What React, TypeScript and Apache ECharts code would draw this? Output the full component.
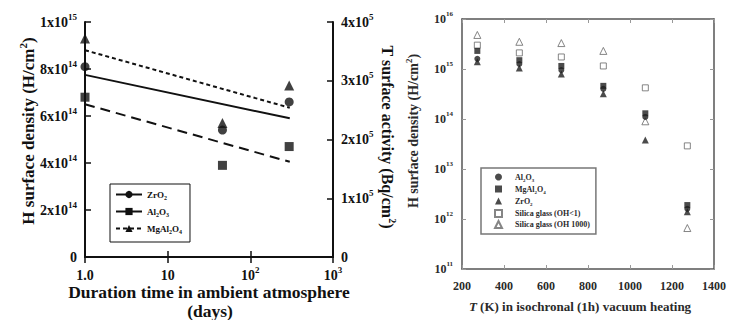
import React, { useEffect, useRef } from "react";
import * as echarts from "echarts";

// ---------- Left panel: H surface density vs duration in ambient atmosphere ----------
const durationDays = [1, 46, 295];
const zro2Density = [8.1e14, 5.4e14, 6.6e14];
const al2o3Density = [6.8e14, 3.9e14, 4.7e14];
const mgal2o4Density = [9.3e14, 5.7e14, 7.3e14];

const fitDays = [1, 300];
const zro2Fit = [7.75e14, 5.9e14];
const al2o3Fit = [6.5e14, 4.05e14];
const mgal2o4Fit = [8.8e14, 6.35e14];

const durationTickLabels = ["1.0", "10", "10^2", "10^3"];
const hDensityTickLabels = ["0", "2x10^14", "4x10^14", "6x10^14", "8x10^14", "1x10^15"];
const activityTickLabels = ["0", "1x10^5", "2x10^5", "3x10^5", "4x10^5"];

// ---------- Right panel: H surface density vs isochronal heating temperature ----------
const heatingTempK = [273, 473, 673, 873, 1073, 1273];
const al2o3Heated = [1.6e15, 1.26e15, 9.5e14, 4.0e14, 1.1e14, 1.6e12];
const mgal2o4Heated = [2.3e15, 1.5e15, 1.15e15, 4.6e14, 1.3e14, 1.9e12];
const zro2Heated = [1.4e15, 1.05e15, 7.9e14, 3.2e14, 3.8e13, 1.4e12];
const silicaOH1Heated = [3.0e15, 2.1e15, 1.74e15, 1.15e15, 4.2e14, 2.9e13];
const silicaOH1000Heated = [4.8e15, 3.5e15, 3.3e15, 2.3e15, 9.0e13, 6.6e11];

const tempTickLabels = ["200", "400", "600", "800", "1000", "1200", "1400"];
const heatDensityTickLabels = ["10^11", "10^12", "10^13", "10^14", "10^15", "10^16"];

const SERIF = "'Liberation Serif', 'Times New Roman', Times, serif";

const toRich = (label: string) => {
  if (!label) return "";
  if (label.indexOf("^") >= 0) {
    const [b, s] = label.split("^");
    return `{b|${b}}{s|${s}}`;
  }
  return `{b|${label}}`;
};

const supRich = (size: number, color: string) => ({
  b: { fontFamily: SERIF, fontWeight: "bold", fontSize: size, color, lineHeight: size + 6 },
  s: {
    fontFamily: SERIF,
    fontWeight: "bold",
    fontSize: Math.round(size * 0.62),
    color,
    lineHeight: Math.round(size * 0.62),
    verticalAlign: "top",
  },
});

const subRich = (size: number, color: string, padLeft: number) => ({
  t: { fontFamily: SERIF, fontWeight: "bold", fontSize: size, color, lineHeight: size + 4 },
  u: {
    fontFamily: SERIF,
    fontWeight: "bold",
    fontSize: Math.round(size * 0.65),
    color,
    lineHeight: Math.round(size * 0.65),
    verticalAlign: "bottom",
  },
  p: { width: padLeft, fontSize: size, lineHeight: size + 4 },
});

const leftLegendLabels: Record<string, string> = {
  ZrO2: "{t|ZrO}{u|2}",
  Al2O3: "{t|Al}{u|2}{t|O}{u|3}",
  MgAl2O4: "{t|MgAl}{u|2}{t|O}{u|4}",
};

const rightLegendLabels: Record<string, string> = {
  "r-Al2O3": "{p|}{t|Al}{u|2}{t|O}{u|3}",
  "r-MgAl2O4": "{p|}{t|MgAl}{u|2}{t|O}{u|4}",
  "r-ZrO2": "{p|}{t|ZrO}{u|2}",
  "r-SilicaOH1": "{p|}{t|Silica glass (OH<1)}",
  "r-SilicaOH1000": "{p|}{t|Silica glass (OH 1000)}",
};

const zip = (xs: number[], ys: number[]) => xs.map((x, i) => [x, ys[i]]);

const BLACK = "#111";
const GRAY_AXIS = "#555";
const GRAY_TEXT = "#2a2a2a";

export default function App() {
  const ref = useRef<HTMLDivElement>(null);

  useEffect(() => {
    if (!ref.current) return;
    const chart = echarts.init(ref.current, undefined, { renderer: "svg" });

    const leftAxisLine = { show: true, lineStyle: { color: BLACK, width: 2 } };
    const leftTick = { show: true, inside: true, length: 6, lineStyle: { color: BLACK, width: 1.5 } };
    const rightAxisLine = { show: true, lineStyle: { color: GRAY_AXIS, width: 1.5 } };
    const rightTick = { show: true, inside: true, length: 4, lineStyle: { color: "#999", width: 1 } };

    const option: any = {
      animation: false,
      backgroundColor: "#fff",
      grid: [
        { left: 85, top: 22, width: 248, height: 235 },
        { left: 462, top: 19, width: 252, height: 250 },
      ],
      xAxis: [
        {
          gridIndex: 0,
          type: "log",
          logBase: 10,
          min: 1,
          max: 1000,
          position: "bottom",
          axisLine: leftAxisLine,
          axisTick: leftTick,
          minorTick: { show: false },
          splitLine: { show: false },
          axisLabel: {
            margin: 8,
            formatter: (_v: number, i: number) => toRich(durationTickLabels[i]),
            rich: supRich(14, BLACK),
          },
        },
        {
          gridIndex: 0,
          type: "log",
          logBase: 10,
          min: 1,
          max: 1000,
          position: "top",
          axisLine: leftAxisLine,
          axisTick: leftTick,
          splitLine: { show: false },
          axisLabel: { show: false },
        },
        {
          gridIndex: 1,
          type: "value",
          min: 200,
          max: 1400,
          interval: 200,
          position: "bottom",
          axisLine: rightAxisLine,
          axisTick: rightTick,
          splitLine: { show: false },
          axisLabel: {
            margin: 8,
            formatter: (_v: number, i: number) => toRich(tempTickLabels[i]),
            rich: supRich(12, GRAY_TEXT),
          },
        },
        {
          gridIndex: 1,
          type: "value",
          min: 200,
          max: 1400,
          interval: 200,
          position: "top",
          axisLine: rightAxisLine,
          axisTick: rightTick,
          splitLine: { show: false },
          axisLabel: { show: false },
        },
      ],
      yAxis: [
        {
          gridIndex: 0,
          type: "value",
          min: 0,
          max: 1e15,
          interval: 2e14,
          position: "left",
          axisLine: leftAxisLine,
          axisTick: leftTick,
          splitLine: { show: false },
          axisLabel: {
            margin: 8,
            formatter: (_v: number, i: number) => toRich(hDensityTickLabels[i]),
            rich: supRich(14, BLACK),
          },
        },
        {
          gridIndex: 0,
          type: "value",
          min: 0,
          max: 4e5,
          interval: 1e5,
          position: "right",
          axisLine: leftAxisLine,
          axisTick: leftTick,
          splitLine: { show: false },
          axisLabel: {
            margin: 8,
            formatter: (_v: number, i: number) => toRich(activityTickLabels[i]),
            rich: supRich(14, BLACK),
          },
        },
        {
          gridIndex: 1,
          type: "log",
          logBase: 10,
          min: 1e11,
          max: 1e16,
          position: "left",
          axisLine: rightAxisLine,
          axisTick: rightTick,
          minorTick: { show: false },
          splitLine: { show: false },
          axisLabel: {
            margin: 9,
            formatter: (_v: number, i: number) => toRich(heatDensityTickLabels[i]),
            rich: supRich(12, GRAY_TEXT),
          },
        },
        {
          gridIndex: 1,
          type: "log",
          logBase: 10,
          min: 1e11,
          max: 1e16,
          position: "right",
          axisLine: rightAxisLine,
          axisTick: rightTick,
          splitLine: { show: false },
          axisLabel: { show: false },
        },
      ],
      legend: [
        {
          data: ["ZrO2", "Al2O3", "MgAl2O4"],
          orient: "vertical",
          left: 110,
          top: 184,
          padding: [6, 8, 7, 5],
          itemGap: 6,
          itemWidth: 26,
          itemHeight: 9,
          borderColor: BLACK,
          borderWidth: 1,
          selectedMode: false,
          formatter: (name: string) => leftLegendLabels[name] || name,
          textStyle: { fontFamily: SERIF, fontWeight: "bold", fontSize: 9, color: BLACK, rich: subRich(9, BLACK, 0) },
        },
        {
          data: ["r-Al2O3", "r-MgAl2O4", "r-ZrO2", "r-SilicaOH1", "r-SilicaOH1000"],
          orient: "vertical",
          left: 481,
          top: 168,
          padding: [5, 6, 5, 13],
          itemGap: 2,
          itemWidth: 7,
          itemHeight: 7,
          borderColor: "#777",
          borderWidth: 1.5,
          selectedMode: false,
          formatter: (name: string) => rightLegendLabels[name] || name,
          textStyle: { fontFamily: SERIF, fontWeight: "bold", fontSize: 8, color: GRAY_TEXT, rich: subRich(8, GRAY_TEXT, 8) },
        },
      ],
      series: [
        // left panel fits
        {
          name: "ZrO2",
          type: "line",
          xAxisIndex: 0,
          yAxisIndex: 0,
          data: zip(fitDays, zro2Fit),
          symbol: "circle",
          showSymbol: false,
          lineStyle: { color: BLACK, width: 2, type: "solid" },
          itemStyle: { color: BLACK },
        },
        {
          name: "Al2O3",
          type: "line",
          xAxisIndex: 0,
          yAxisIndex: 0,
          data: zip(fitDays, al2o3Fit),
          symbol: "rect",
          showSymbol: false,
          lineStyle: { color: BLACK, width: 2, type: [10, 6] },
          itemStyle: { color: BLACK },
        },
        {
          name: "MgAl2O4",
          type: "line",
          xAxisIndex: 0,
          yAxisIndex: 0,
          data: zip(fitDays, mgal2o4Fit),
          symbol: "triangle",
          showSymbol: false,
          lineStyle: { color: BLACK, width: 2, type: [4, 3] },
          itemStyle: { color: BLACK },
        },
        // left panel points
        {
          name: "ZrO2 points",
          type: "scatter",
          xAxisIndex: 0,
          yAxisIndex: 0,
          data: zip(durationDays, zro2Density),
          symbol: "circle",
          symbolSize: 9,
          itemStyle: { color: BLACK },
        },
        {
          name: "Al2O3 points",
          type: "scatter",
          xAxisIndex: 0,
          yAxisIndex: 0,
          data: zip(durationDays, al2o3Density),
          symbol: "rect",
          symbolSize: 9,
          itemStyle: { color: BLACK },
        },
        {
          name: "MgAl2O4 points",
          type: "scatter",
          xAxisIndex: 0,
          yAxisIndex: 0,
          data: zip(durationDays, mgal2o4Density),
          symbol: "triangle",
          symbolSize: 10,
          itemStyle: { color: BLACK },
        },
        // right panel
        {
          name: "r-SilicaOH1000",
          type: "scatter",
          xAxisIndex: 2,
          yAxisIndex: 2,
          data: zip(heatingTempK, silicaOH1000Heated),
          symbol: "triangle",
          symbolSize: 7,
          itemStyle: { color: "#fff", borderColor: "#666", borderWidth: 1 },
        },
        {
          name: "r-SilicaOH1",
          type: "scatter",
          xAxisIndex: 2,
          yAxisIndex: 2,
          data: zip(heatingTempK, silicaOH1Heated),
          symbol: "rect",
          symbolSize: 6,
          itemStyle: { color: "#fff", borderColor: "#666", borderWidth: 1 },
        },
        {
          name: "r-ZrO2",
          type: "scatter",
          xAxisIndex: 2,
          yAxisIndex: 2,
          data: zip(heatingTempK, zro2Heated),
          symbol: "triangle",
          symbolSize: 7,
          itemStyle: { color: "#1e1e1e" },
        },
        {
          name: "r-Al2O3",
          type: "scatter",
          xAxisIndex: 2,
          yAxisIndex: 2,
          data: zip(heatingTempK, al2o3Heated),
          symbol: "circle",
          symbolSize: 6,
          itemStyle: { color: "#1e1e1e" },
        },
        {
          name: "r-MgAl2O4",
          type: "scatter",
          xAxisIndex: 2,
          yAxisIndex: 2,
          data: zip(heatingTempK, mgal2o4Heated),
          symbol: "rect",
          symbolSize: 6,
          itemStyle: { color: "#1e1e1e" },
        },
      ],
      graphic: [
        {
          type: "text",
          x: 28,
          y: 131,
          rotation: Math.PI / 2,
          style: {
            text: "{a|H surface density (H/cm}{s|2}{a|)}",
            align: "center",
            verticalAlign: "middle",
            rich: {
              a: { fontFamily: SERIF, fontWeight: "bold", fontSize: 17, fill: BLACK, lineHeight: 21 },
              s: { fontFamily: SERIF, fontWeight: "bold", fontSize: 11, fill: BLACK, lineHeight: 11, verticalAlign: "top" },
            },
          },
        },
        {
          type: "text",
          x: 387,
          y: 137,
          rotation: -Math.PI / 2,
          style: {
            text: "{a|T surface activity (Bq/cm}{s|2}{a|)}",
            align: "center",
            verticalAlign: "middle",
            rich: {
              a: { fontFamily: SERIF, fontWeight: "bold", fontSize: 16, fill: BLACK, lineHeight: 20 },
              s: { fontFamily: SERIF, fontWeight: "bold", fontSize: 10, fill: BLACK, lineHeight: 10, verticalAlign: "top" },
            },
          },
        },
        {
          type: "text",
          x: 209,
          y: 292,
          style: {
            text: "Duration time in ambient atmosphere",
            align: "center",
            verticalAlign: "middle",
            fontFamily: SERIF,
            fontWeight: "bold",
            fontSize: 17.5,
            fill: BLACK,
          },
        },
        {
          type: "text",
          x: 210,
          y: 311,
          style: {
            text: "(days)",
            align: "center",
            verticalAlign: "middle",
            fontFamily: SERIF,
            fontWeight: "bold",
            fontSize: 17.5,
            fill: BLACK,
          },
        },
        {
          type: "text",
          x: 413,
          y: 131,
          rotation: Math.PI / 2,
          style: {
            text: "{a|H surface density (H/cm}{s|2}{a|)}",
            align: "center",
            verticalAlign: "middle",
            rich: {
              a: { fontFamily: SERIF, fontWeight: "bold", fontSize: 14, fill: GRAY_TEXT, lineHeight: 18 },
              s: { fontFamily: SERIF, fontWeight: "bold", fontSize: 9, fill: GRAY_TEXT, lineHeight: 9, verticalAlign: "top" },
            },
          },
        },
        {
          type: "text",
          x: 580,
          y: 306,
          style: {
            text: "{i|T}{a| (K) in isochronal (1h) vacuum heating}",
            align: "center",
            verticalAlign: "middle",
            rich: {
              i: { fontFamily: SERIF, fontWeight: "bold", fontStyle: "italic", fontSize: 13, fill: GRAY_TEXT },
              a: { fontFamily: SERIF, fontWeight: "bold", fontSize: 13, fill: GRAY_TEXT },
            },
          },
        },
      ],
    };

    chart.setOption(option);
    return () => chart.dispose();
  }, []);

  return (
    <div
      ref={ref}
      style={{ position: "fixed", left: 0, top: 0, width: 729, height: 320, background: "#fff" }}
    />
  );
}
